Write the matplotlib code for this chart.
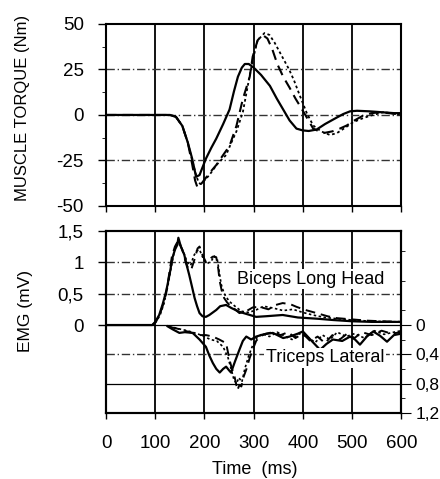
import matplotlib
matplotlib.use('Agg')
import matplotlib.pyplot as plt
from matplotlib.ticker import MultipleLocator, FixedLocator

plt.rcParams['font.family'] = ['Liberation Sans', 'DejaVu Sans']
plt.rcParams['axes.unicode_minus'] = False  # 负号用普通连字符

# 肌肉力矩 (Nm)，三种条件：实线 / 虚线 / 点划线
t_tq_solid = [0, 130, 142, 155, 166, 175, 183, 190, 203, 214, 224, 238, 251, 260, 268, 276, 282, 290,
              300, 315, 333, 347, 360, 373, 387, 400, 412, 428, 445, 465, 482, 496, 510, 535, 560, 585, 600]
tq_solid = [0, 0, -1, -6, -15, -24, -34, -33, -24, -18, -13, -5, 3, 13, 21, 26, 28, 28,
            26, 22, 16, 9, 3, -3, -7.5, -8.5, -8.8, -8, -5, -2, 0.5, 2, 2.3, 2, 1.5, 1, 1]

t_tq_dash = [0, 130, 142, 155, 166, 175, 181, 186, 196, 210, 224, 238, 251, 265, 278, 292, 298, 308,
             318, 328, 338, 348, 360, 373, 385, 394, 405, 421, 441, 460, 475, 489, 505, 522, 540, 557, 575, 590, 600]
tq_dash = [0, 0, -1, -6, -15, -27, -36, -40, -37, -32, -27.5, -22, -17, -6, 8.7, 21, 32, 41,
           44, 42, 36, 28, 21, 15, 9, 5, 0, -7.5, -10, -9, -7.5, -5.8, -3, -0.4, 1, 1.5, 1, 0.5, 0]

t_tq_dot = [0, 130, 142, 155, 166, 175, 183, 188, 192, 200, 210, 226, 244, 255, 265, 278, 288, 298, 308,
            322, 332, 342, 352, 362, 372, 382, 394, 408, 421, 437, 455, 469, 486, 502, 520, 537, 550, 563, 580, 600]
tq_dot = [0, 0, -1, -6, -15, -25, -33, -37, -38, -36, -33, -27, -22, -15, -9, 1.5, 16, 30, 41,
          45, 44, 40, 35, 30, 25, 19, 10.5, 1, -5.8, -9, -11, -10, -7, -4, -2, -0.4, 0.5, 1.5, 1, 0]

# 肱二头肌长头 EMG (mV)
t_bic_solid = [0, 94, 100, 108, 115, 122, 129, 135, 140, 145, 147, 152, 159, 164, 169, 175, 180, 185, 190,
               196, 203, 210, 217, 224, 232, 244, 255, 271, 288, 305, 325, 359, 390, 430, 461, 500, 540, 600]
bic_solid = [0, 0, 0.05, 0.16, 0.33, 0.53, 0.8, 1.07, 1.2, 1.28, 1.39, 1.25, 1.12, 0.95, 0.8, 0.6, 0.43, 0.3, 0.19,
             0.14, 0.13, 0.16, 0.2, 0.24, 0.3, 0.32, 0.27, 0.21, 0.17, 0.13, 0.14, 0.16, 0.12, 0.1, 0.08, 0.06, 0.05, 0.05]

t_bic_dash = [0, 94, 100, 108, 115, 122, 128, 134, 140, 147, 155, 162, 167, 173, 180, 186, 190, 196, 203, 210,
              217, 224, 228, 231, 235, 240, 246, 251, 262, 271, 285, 298, 312, 330, 345, 359, 375, 387, 405, 428,
              450, 469, 500, 530, 560, 600]
bic_dash = [0, 0, 0.04, 0.14, 0.3, 0.5, 0.8, 1.1, 1.25, 1.35, 1.2, 1.0, 0.9, 0.88, 1.05, 1.22, 1.25, 1.12, 1.0, 1.05,
            1.09, 1.08, 0.9, 0.7, 0.55, 0.43, 0.36, 0.32, 0.25, 0.19, 0.22, 0.28, 0.29, 0.25, 0.32, 0.35, 0.33, 0.29,
            0.24, 0.19, 0.14, 0.11, 0.09, 0.07, 0.06, 0.05]

t_bic_dot = [0, 94, 100, 110, 118, 125, 132, 138, 144, 150, 158, 165, 172, 178, 184, 190, 198, 206, 214, 220,
             226, 230, 234, 240, 250, 262, 275, 290, 305, 320, 340, 360, 380, 400, 420, 445, 470, 500, 540, 600]
bic_dot = [0, 0, 0.03, 0.16, 0.35, 0.6, 0.9, 1.15, 1.3, 1.28, 1.15, 1.0, 0.95, 1.1, 1.18, 1.2, 1.05, 0.98, 1.02, 1.1,
           1.05, 0.85, 0.65, 0.5, 0.38, 0.3, 0.22, 0.2, 0.24, 0.3, 0.27, 0.23, 0.25, 0.2, 0.16, 0.12, 0.1, 0.08, 0.06, 0.05]

# 肱三头肌外侧头 EMG (mV)，右轴向下
t_tri_solid = [125, 135, 149, 160, 176, 190, 203, 210, 217, 224, 231, 238, 244, 250, 254, 262, 271, 278, 285,
               295, 305, 320, 339, 360, 373, 390, 400, 418, 435, 448, 461, 480, 496, 506, 516, 530, 543, 557,
               571, 585, 600]
tri_solid = [0.02, 0.06, 0.11, 0.1, 0.11, 0.2, 0.3, 0.42, 0.52, 0.6, 0.65, 0.6, 0.57, 0.62, 0.65, 0.5, 0.34, 0.22,
             0.16, 0.2, 0.16, 0.13, 0.11, 0.18, 0.16, 0.12, 0.09, 0.22, 0.34, 0.26, 0.2, 0.22, 0.16, 0.2, 0.27,
             0.16, 0.09, 0.15, 0.23, 0.14, 0.12]

t_tri_dash = [130, 150, 170, 190, 203, 217, 230, 244, 251, 256, 261, 267, 271, 275, 280, 285, 292, 298, 305,
              312, 325, 340, 355, 370, 385, 400, 415, 430, 445, 460, 475, 490, 505, 520, 540, 560, 580, 600]
tri_dash = [0.03, 0.06, 0.1, 0.14, 0.14, 0.16, 0.2, 0.25, 0.48, 0.6, 0.7, 0.89, 0.82, 0.84, 0.7, 0.61, 0.45, 0.34,
            0.22, 0.16, 0.12, 0.1, 0.14, 0.1, 0.18, 0.12, 0.22, 0.16, 0.25, 0.14, 0.2, 0.12, 0.18, 0.1, 0.14,
            0.08, 0.12, 0.1]

t_tri_dot = [128, 145, 165, 185, 200, 212, 225, 238, 248, 255, 260, 265, 270, 276, 282, 290, 298, 306, 318,
             332, 348, 362, 378, 392, 408, 425, 440, 455, 470, 488, 505, 525, 545, 565, 585, 600]
tri_dot = [0.02, 0.05, 0.08, 0.12, 0.16, 0.2, 0.22, 0.3, 0.45, 0.62, 0.75, 0.8, 0.72, 0.78, 0.6, 0.42, 0.28, 0.18,
           0.12, 0.16, 0.1, 0.15, 0.2, 0.12, 0.16, 0.24, 0.14, 0.2, 0.1, 0.16, 0.12, 0.18, 0.08, 0.13, 0.1, 0.08]

x_ticks = [0, 100, 200, 300, 400, 500, 600]

fig = plt.figure(figsize=(4.4, 4.79), dpi=100)
ax1 = fig.add_axes([0.241, 0.570, 0.671, 0.380])
ax2 = fig.add_axes([0.241, 0.138, 0.671, 0.380])

for ax in (ax1, ax2):
    ax.set_xlim(0, 600)
    ax.set_xticks(x_ticks)
    for x in x_ticks[1:-1]:
        ax.axvline(x, color='black', lw=1.3, zorder=1)
    for s in ax.spines.values():
        s.set_linewidth(1.5)
    ax.tick_params(labelsize=13.5, width=1, color='black')

# 上图：力矩
ax1.set_ylim(-50, 50)
ax1.set_yticks([-50, -25, 0, 25, 50])
ax1.yaxis.set_minor_locator(MultipleLocator(12.5))
for y in [-25, 0, 25]:
    ax1.axhline(y, color='#333333', lw=1, ls=(0, (6, 2, 1, 2)), zorder=1)
ax1.plot(t_tq_solid, tq_solid, color='black', lw=1.6, zorder=3)
ax1.plot(t_tq_dash, tq_dash, color='black', lw=1.5, ls=(0, (5, 3)), zorder=3)
ax1.plot(t_tq_dot, tq_dot, color='black', lw=1.3, ls=(0, (1.5, 1.5)), zorder=3)
ax1.tick_params(axis='x', labelbottom=False, direction='out', length=4)
ax1.tick_params(axis='y', which='major', direction='out', length=6, pad=10)
ax1.tick_params(axis='y', which='minor', direction='out', length=3)

# 下图：EMG
ax2.set_ylim(-1.4, 1.5)
ax2.yaxis.set_major_locator(FixedLocator([0, 0.5, 1, 1.5]))
ax2.set_yticklabels(['0', '0,5', '1', '1,5'])
ax2.set_xticklabels([str(x) for x in x_ticks])
ax2.tick_params(axis='x', direction='out', length=4, pad=12)
ax2.tick_params(axis='y', direction='out', length=6, pad=10)
for y in [0.5, 1]:
    ax2.axhline(y, color='#333333', lw=1, ls=(0, (6, 2, 1, 2)), zorder=1)
ax2.axhline(0, color='black', lw=0.9, zorder=2)
ax2.plot(t_bic_solid, bic_solid, color='black', lw=1.6, zorder=3)
ax2.plot(t_bic_dash, bic_dash, color='black', lw=1.4, ls=(0, (5, 3)), zorder=3)
ax2.plot(t_bic_dot, bic_dot, color='black', lw=1.2, ls=(0, (1.5, 1.5)), zorder=3)

ax3 = ax2.twinx()
ax3.set_ylim(1.2, -1.28)
ax3.yaxis.set_major_locator(FixedLocator([0, 0.4, 0.8, 1.2]))
ax3.set_yticklabels(['0', '0,4', '0,8', '1,2'])
ax3.yaxis.set_minor_locator(FixedLocator([-1.0, -0.6, -0.2, 0.2, 0.6, 1.0]))
ax3.tick_params(axis='y', which='major', direction='out', length=7, labelsize=12.5, pad=3)
ax3.tick_params(axis='y', which='minor', direction='out', length=3)
for s in ax3.spines.values():
    s.set_linewidth(1.5)
ax3.axhline(0.4, color='#333333', lw=1, ls=(0, (6, 2, 1, 2)), zorder=1)
ax3.axhline(0.8, color='black', lw=0.9, zorder=1)
ax3.plot(t_tri_solid, tri_solid, color='black', lw=1.6, zorder=3)
ax3.plot(t_tri_dash, tri_dash, color='black', lw=1.4, ls=(0, (5, 3)), zorder=3)
ax3.plot(t_tri_dot, tri_dot, color='black', lw=1.2, ls=(0, (1.5, 1.5)), zorder=3)

ax3.text(416, 0.73, 'Biceps Long Head', transform=ax2.transData, fontsize=13,
         ha='center', va='center', zorder=5,
         bbox=dict(facecolor='white', edgecolor='none', pad=1))
ax3.text(445, 0.45, 'Triceps Lateral', fontsize=13, ha='center', va='center', zorder=5,
         bbox=dict(facecolor='white', edgecolor='none', pad=1))

fig.text(0.05, 0.775, 'MUSCLE TORQUE (Nm)', rotation=90, fontsize=12, ha='center', va='center')
fig.text(0.057, 0.351, 'EMG (mV)', rotation=90, fontsize=12.5, ha='center', va='center')
fig.text(0.58, 0.019, 'Time  (ms)', fontsize=13, ha='center', va='center')

fig.savefig('out.png', dpi=100)
